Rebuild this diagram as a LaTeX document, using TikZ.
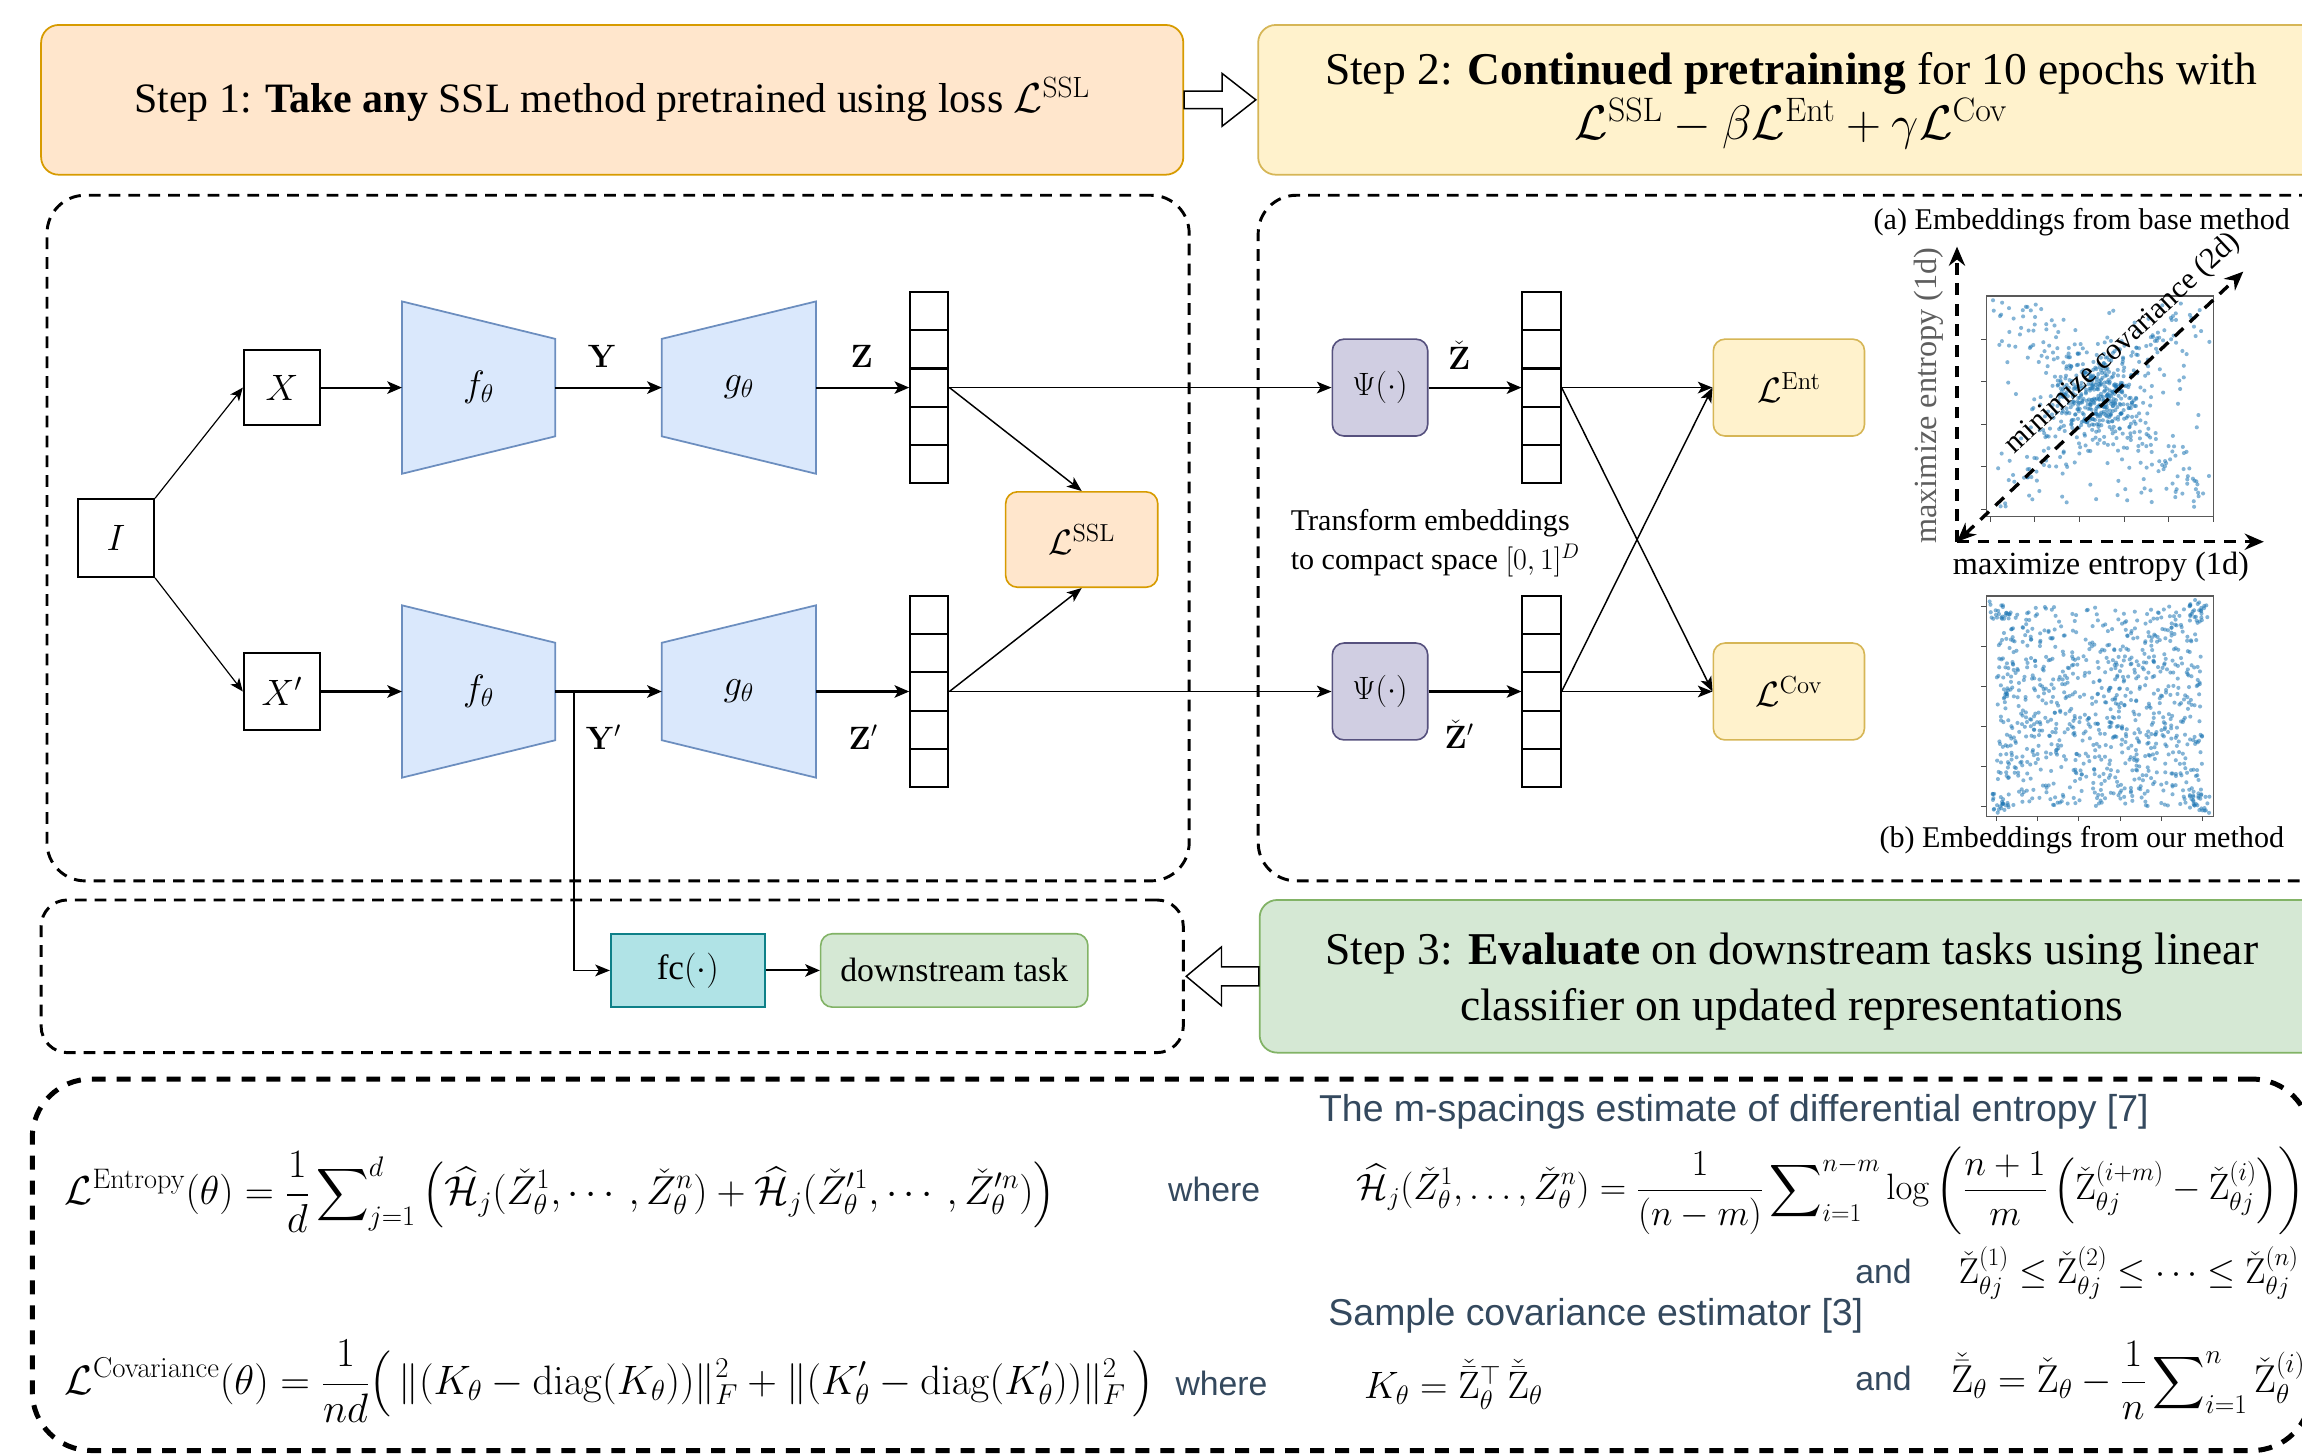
\documentclass[tikz,border=0pt]{standalone}
\usepackage{fix-cm}
\usepackage{amsmath}
\usepackage[no-math]{fontspec}
\setmainfont{Liberation Serif}
\setsansfont{Liberation Sans}
\usetikzlibrary{arrows.meta,calc,backgrounds}

\definecolor{peachF}{HTML}{FFE6CC}\definecolor{peachD}{HTML}{D79B00}
\definecolor{yelF}{HTML}{FFF2CC}\definecolor{yelD}{HTML}{D6B656}
\definecolor{grnF}{HTML}{D5E8D4}\definecolor{grnD}{HTML}{82B366}
\definecolor{cyanF}{HTML}{B0E3E6}\definecolor{cyanD}{HTML}{0E8088}
\definecolor{purF}{HTML}{D0CEE2}\definecolor{purD}{HTML}{56517E}
\definecolor{bluF}{HTML}{DAE8FC}\definecolor{bluD}{HTML}{6C8EBF}
\definecolor{slate}{HTML}{34495E}
\definecolor{dotblue}{HTML}{1F77B4}
\definecolor{axgray}{HTML}{5E5E5E}

\newcommand\fsz[2]{\fontsize{#1}{#2}\selectfont}

\begin{document}
\begin{tikzpicture}[x=1pt,y=-1pt,
  conn/.style={-{Stealth[length=10pt,width=8.5pt,inset=2.5pt]},line width=1.4pt},
  midconn/.style={-{Stealth[length=10pt,width=8pt,inset=2.5pt]},line width=1.0pt},
  thinconn/.style={-{Stealth[length=9pt,width=7.5pt,inset=2.5pt]},line width=0.8pt},
  plainbox/.style={draw,line width=1.2pt,fill=white,inner sep=0pt},
  cellbox/.style={draw,line width=1.4pt,minimum size=26pt,inner sep=0pt},
  dashbox/.style={draw,dash pattern=on 8pt off 5.5pt,line width=2pt,rounded corners=26pt,inner sep=0pt},
  stepbox/.style={rounded corners=12pt,line width=1.2pt,inner sep=0pt},
  tagbox/.style={rounded corners=8pt,line width=1.1pt,inner sep=0pt},
  trap/.style={fill=bluF,draw=bluD,line width=1.2pt},
  hollow/.style={draw=black,fill=white,line width=1pt,line join=miter},
  holder/.style={inner sep=0pt},
  mathlbl/.style={font=\fsz{25}{30}},
  boldlbl/.style={font=\fsz{22}{26}},
  sanslbl/.style={font=\sffamily\fsz{23}{28},text=slate},
  sanshead/.style={font=\sffamily\fsz{25.5}{30},text=slate},
  formula/.style={anchor=west,font=\fsz{27.5}{32},inner sep=0pt},
  dot/.style={fill=dotblue,fill opacity=0.55},
  tick/.style={draw=black!70,line width=0.6pt},
  frame/.style={draw=black!65,line width=0.8pt},
  axarrow/.style={line width=2.3pt,dash pattern=on 8pt off 6pt,-{Stealth[length=13pt,width=11pt]}},
]
\useasboundingbox (0,0) rectangle (1568,991);
\clip (0,0) rectangle (1568,991);

% ---------- dashed containers ----------
\node[dashbox,minimum width=778pt,minimum height=467pt] (pA) at (421,366.5) {};
\node[dashbox,minimum width=743pt,minimum height=467pt] (pB) at (1228.5,366.5) {};
\node[dashbox,rounded corners=18pt,minimum width=778pt,minimum height=104pt] (pC) at (417,665) {};
\node[dashbox,line width=3.4pt,dash pattern=on 9.5pt off 7.5pt,rounded corners=40pt,minimum width=1552pt,minimum height=253pt] (pD) at (798,861.5) {};

% ---------- the three steps ----------
\node[stepbox,fill=peachF,draw=peachD,minimum width=778pt,minimum height=102pt,font=\fsz{28.5}{34}] (s1) at (417,68)
  {Step 1: \textbf{Take any} SSL method pretrained using loss $\mathcal{L}^{\mathrm{SSL}}$};
\node[stepbox,fill=yelF,draw=yelD,minimum width=726pt,minimum height=102pt] (s2) at (1220,68) {};
\node[align=center,font=\fsz{31}{37},inner sep=0pt] (s2t) at (1220,68.5)
  {Step 2: \textbf{Continued pretraining} for 10 epochs with\\ \fsz{33}{37}$\mathcal{L}^{\mathrm{SSL}}-\beta\mathcal{L}^{\mathrm{Ent}}+\gamma\mathcal{L}^{\mathrm{Cov}}$};
\node[stepbox,fill=grnF,draw=grnD,minimum width=725pt,minimum height=104pt] (s3) at (1220.5,665) {};
\node[align=center,font=\fsz{31}{38},inner sep=0pt] (s3t) at (1220.5,668.5)
  {Step 3: \textbf{Evaluate} on downstream tasks using linear\\ classifier on updated representations};

\draw[hollow] ($(s1.east)+(0,-6)$) -- ($(s2.west)+(-24,-6)$) -- ($(s2.west)+(-24,-18)$) -- ($(s2.west)+(-1,0)$)
  -- ($(s2.west)+(-24,18)$) -- ($(s2.west)+(-24,6)$) -- ($(s1.east)+(0,6)$) -- cycle;
\draw[hollow] ($(s3.west)+(0,-6.5)$) -- ($(pC.east)+(25,-6.5)$) -- ($(pC.east)+(25,-20)$) -- ($(pC.east)+(1,0)$)
  -- ($(pC.east)+(25,20)$) -- ($(pC.east)+(25,6.5)$) -- ($(s3.west)+(0,6.5)$) -- cycle;

% ---------- base SSL pipeline ----------
\node[plainbox,minimum width=52pt,minimum height=53pt,mathlbl] (I) at (79,366.5) {$I$};
\node[plainbox,minimum width=52pt,minimum height=51pt,mathlbl] (X) at (192,264) {$X$};
\node[plainbox,minimum width=52pt,minimum height=52pt,mathlbl] (Xp) at (192,471) {$X'$};

\node[holder,minimum width=104pt,minimum height=117pt,mathlbl] (f1) at (326,264) {$f_\theta$};
\node[holder,minimum width=104.6pt,minimum height=117pt,mathlbl] (g1) at (503.3,264) {$g_\theta$};
\node[holder,minimum width=104pt,minimum height=117pt,mathlbl] (f2) at (326,471) {$f_\theta$};
\node[holder,minimum width=104.6pt,minimum height=117pt,mathlbl] (g2) at (503.3,471) {$g_\theta$};
\begin{scope}[on background layer]
  \draw[trap] (f1.north west) -- ($(f1.north east)+(0,25.5)$) -- ($(f1.south east)+(0,-25.5)$) -- (f1.south west) -- cycle;
  \draw[trap] ($(g1.north west)+(0,25.5)$) -- (g1.north east) -- (g1.south east) -- ($(g1.south west)+(0,-25.5)$) -- cycle;
  \draw[trap] (f2.north west) -- ($(f2.north east)+(0,25.5)$) -- ($(f2.south east)+(0,-25.5)$) -- (f2.south west) -- cycle;
  \draw[trap] ($(g2.north west)+(0,25.5)$) -- (g2.north east) -- (g2.south east) -- ($(g2.south west)+(0,-25.5)$) -- cycle;
\end{scope}

\foreach \k/\yy in {1/212,2/238,3/264,4/290,5/316}{
  \node[cellbox] (v\k) at (633,\yy) {};
  \node[cellbox] (r\k) at (1050,\yy) {};
}
\foreach \k/\yy in {1/419,2/445,3/471,4/497,5/523}{
  \node[cellbox] (w\k) at (633,\yy) {};
  \node[cellbox] (s\k) at (1050,\yy) {};
}

\node[boldlbl] (lY) at (410,243) {$\mathbf{Y}$};
\node[boldlbl] (lZ) at (587,243) {$\mathbf{Z}$};
\node[boldlbl] (lYp) at (411,502) {$\mathbf{Y}'$};
\node[boldlbl] (lZp) at (588,502) {$\mathbf{Z}'$};

\node[tagbox,fill=peachF,draw=peachD,minimum width=103.6pt,minimum height=65pt,font=\fsz{24}{28}] (ssl) at (736.8,367.5) {$\mathcal{L}^{\mathrm{SSL}}$};

% ---------- regulariser branch ----------
\node[tagbox,fill=purF,draw=purD,minimum width=65pt,minimum height=66pt,font=\fsz{22}{26}] (psi1) at (940,264) {$\Psi(\cdot)$};
\node[tagbox,fill=purF,draw=purD,minimum width=65pt,minimum height=66pt,font=\fsz{22}{26}] (psi2) at (940,471) {$\Psi(\cdot)$};
\node[boldlbl] (lZc) at (994,242) {$\check{\mathbf{Z}}$};
\node[boldlbl] (lZcp) at (994,500) {$\check{\mathbf{Z}}'$};
\node[tagbox,fill=yelF,draw=yelD,minimum width=103pt,minimum height=66pt,font=\fsz{24}{28}] (ent) at (1218.5,264) {$\mathcal{L}^{\mathrm{Ent}}$};
\node[tagbox,fill=yelF,draw=yelD,minimum width=103pt,minimum height=66pt,font=\fsz{24}{28}] (cov) at (1218.5,471) {$\mathcal{L}^{\mathrm{Cov}}$};
\node[anchor=west,align=left,font=\fsz{20.5}{26},inner sep=0pt] (tr) at (879,370) {Transform embeddings\\to compact space $[0,1]^D$};

% ---------- evaluation ----------
\node[draw=cyanD,fill=cyanF,line width=1.1pt,inner sep=0pt,minimum width=105pt,minimum height=50pt,font=\fsz{24}{28}] (fc) at (468.5,661) {fc$(\cdot)$};
\node[tagbox,fill=grnF,draw=grnD,minimum width=182pt,minimum height=50pt,font=\fsz{23}{28}] (ds) at (650,661) {downstream task};
\coordinate (br) at (391,471);

% ---------- connectors ----------
\draw[thinconn] (I.north east) -- (X.west);
\draw[thinconn] (I.south east) -- (Xp.west);
\draw[conn] (X.east) -- (f1.west);
\draw[conn] (f1.east) -- (g1.west);
\draw[conn] (g1.east) -- (v3.west);
\draw[conn] (Xp.east) -- (f2.west);
\draw[conn] (f2.east) -- (g2.west);
\draw[conn] (g2.east) -- (w3.west);
\draw[midconn] (v3.east) -- (ssl.north);
\draw[midconn] (w3.east) -- (ssl.south);
\draw[midconn] (v3.east) -- (psi1.west);
\draw[midconn] (w3.east) -- (psi2.west);
\draw[conn] (psi1.east) -- (r3.west);
\draw[conn] (psi2.east) -- (s3.west);
\draw[midconn] (r3.east) -- (ent.west);
\draw[midconn] (r3.east) -- (cov.west);
\draw[midconn] (s3.east) -- (ent.west);
\draw[midconn] (s3.east) -- (cov.west);
\draw[midconn] (br) |- (fc.west);
\draw[conn] (fc.east) -- (ds.west);

% ---------- scatter plot (a): base method ----------
\pgfmathsetseed{11}
\begin{scope}
  \clip (1353,201.6) rectangle (1507.5,352);
  \foreach \n in {1,...,300}{
    \pgfmathsetmacro{\ex}{1428+15*(rand+rand+rand)}
    \pgfmathsetmacro{\ey}{272+15*(rand+rand+rand)}
    \fill[dot] (\ex,\ey) circle (1.4pt);
  }
  \foreach \n in {1,...,260}{
    \pgfmathsetmacro{\uu}{rand}
    \pgfmathsetmacro{\sg}{rand>0 ? 1 : -1}
    \pgfmathsetmacro{\ex}{1428+66*(\uu)+13*(rand+rand)}
    \pgfmathsetmacro{\ey}{272+(\sg)*62*(\uu)+13*(rand+rand)}
    \fill[dot] (\ex,\ey) circle (1.4pt);
  }
  \foreach \n in {1,...,120}{
    \pgfmathsetmacro{\ex}{1430+70*rand}
    \pgfmathsetmacro{\ey}{277+68*rand}
    \fill[dot] (\ex,\ey) circle (1.4pt);
  }
\end{scope}
\draw[frame] (1353,201.6) rectangle (1507.5,352);
\foreach \k in {0,...,5} \draw[tick] (1355.6+30.4*\k,352) -- ++(0,3.5);
\foreach \k in {0,...,4} \draw[tick] (1353,231+29*\k) -- ++(-3.5,0);

% ---------- scatter plot (b): our method ----------
\begin{scope}
  \clip (1353,406) rectangle (1507.6,556);
  \foreach \n in {1,...,880}{
    \pgfmathsetmacro{\ex}{1430+70*rand}
    \pgfmathsetmacro{\ey}{481+68*rand}
    \fill[dot] (\ex,\ey) circle (1.4pt);
  }
  \foreach \cx/\cy in {1362/415,1498/415,1362/547,1498/547}{
    \foreach \n in {1,...,22}{
      \pgfmathsetmacro{\ex}{\cx+7*rand}
      \pgfmathsetmacro{\ey}{\cy+7*rand}
      \fill[dot] (\ex,\ey) circle (1.4pt);
    }
  }
\end{scope}
\draw[frame] (1353,406) rectangle (1507.6,556);
\foreach \k in {0,...,5} \draw[tick] (1360+28*\k,556) -- ++(0,3.5);
\foreach \k in {0,...,5} \draw[tick] (1353,413+27.2*\k) -- ++(-3.5,0);

% ---------- axes of the embedding picture ----------
\coordinate (ax0) at (1333,369);
\coordinate (axT) at (1333,168);
\coordinate (axR) at (1542,369);
\coordinate (axD) at (1528,185);
\draw[axarrow] (ax0) -- (axT);
\draw[axarrow] (ax0) -- (axR);
\draw[axarrow,{Stealth[length=13pt,width=11pt]}-{Stealth[length=13pt,width=11pt]}] (ax0) -- (axD);

\node[font=\fsz{20.5}{24}] (capA) at (1418,151) {(a) Embeddings from base method};
\node[font=\fsz{20.5}{24}] (capB) at (1418,572) {(b) Embeddings from our method};
\node[font=\fsz{22}{26}] (axlx) at (1431,386) {maximize entropy (1d)};
\node[font=\fsz{22}{26},rotate=90,text=axgray] (axly) at (1314,269.5) {maximize entropy (1d)};
\node[font=\fsz{20.5}{24},rotate=43] (axld) at (1446,234) {minimize covariance (2d)};

% ---------- loss definitions ----------
\node[formula] (fE) at (44,812) {$\displaystyle \mathcal{L}^{\mathrm{Entropy}}(\theta)=\frac{1}{d}\sum\nolimits_{j=1}^{d}\left(\widehat{\mathcal{H}}_j(\check{Z}^1_\theta,\cdots,\check{Z}^n_\theta)+\widehat{\mathcal{H}}_j(\check{Z}'^1_\theta,\cdots,\check{Z}'^n_\theta)\right)$};
\node[sanslbl] (w1) at (827,810) {where};
\node[sanshead] (hd1) at (1181,757) {The m-spacings estimate of differential entropy [7]};
\node[formula,font=\fsz{25}{30}] (fH) at (924,811) {$\displaystyle \widehat{\mathcal{H}}_j(\check{Z}^1_\theta,\ldots,\check{Z}^n_\theta)=\frac{1}{(n-m)}\sum\nolimits_{i=1}^{n-m}\log\left(\frac{n+1}{m}\left(\check{\mathrm{Z}}^{(i+m)}_{\theta j}-\check{\mathrm{Z}}^{(i)}_{\theta j}\right)\right)$};
\node[sanslbl] (a1) at (1283,866) {and};
\node[formula,font=\fsz{24.5}{29}] (fO) at (1334,867) {$\check{\mathrm{Z}}^{(1)}_{\theta j}\leq\check{\mathrm{Z}}^{(2)}_{\theta j}\leq\cdots\leq\check{\mathrm{Z}}^{(n)}_{\theta j}$};
\node[sanshead] (hd2) at (1087,896) {Sample covariance estimator [3]};
\node[formula,font=\fsz{28}{32}] (fC) at (44,941) {$\displaystyle \mathcal{L}^{\mathrm{Covariance}}(\theta)=\frac{1}{nd}\bigl(\,\|(K_\theta-\mathrm{diag}(K_\theta))\|_F^2+\|(K'_\theta-\mathrm{diag}(K'_\theta))\|_F^2\,\bigr)$};
\node[sanslbl] (w2) at (832,942) {where};
\node[formula,font=\fsz{26}{30}] (fK) at (929,943) {$K_\theta=\check{\bar{\mathrm{Z}}}{}^{\top}_\theta\,\check{\bar{\mathrm{Z}}}_\theta$};
\node[sanslbl] (a2) at (1283,939) {and};
\node[formula,font=\fsz{26.5}{30}] (fZ) at (1329,940) {$\displaystyle \check{\bar{\mathrm{Z}}}_\theta=\check{\mathrm{Z}}_\theta-\frac{1}{n}\sum\nolimits_{i=1}^{n}\check{\mathrm{Z}}^{(i)}_\theta$};
\end{tikzpicture}
\end{document}
